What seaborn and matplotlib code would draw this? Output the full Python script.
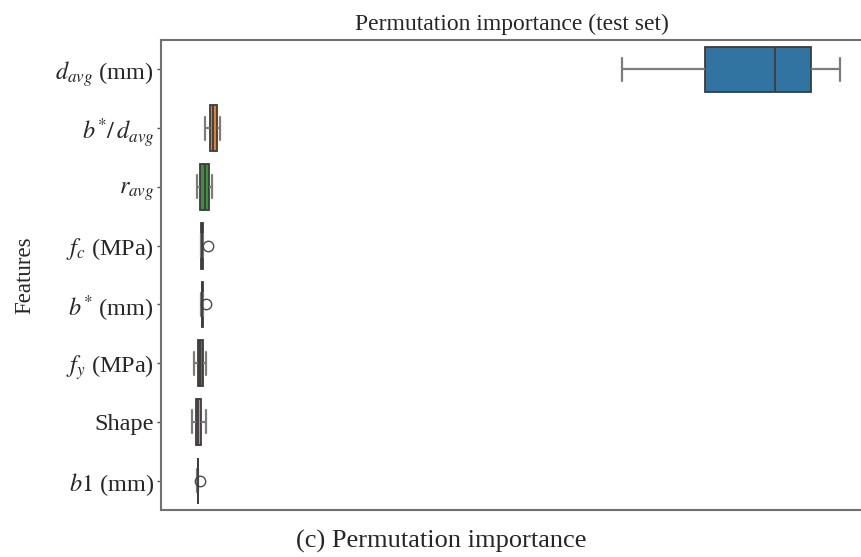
import matplotlib
matplotlib.use("Agg")
import matplotlib.pyplot as plt
import numpy as np
import pandas as pd
import seaborn as sns

# Permutation importance samples per feature (test set, repeated shuffles)
features = [
    r"$d_{avg}$ (mm)",
    r"$b^{*}/\,d_{avg}$",
    r"$r_{avg}$",
    r"$f_c$ (MPa)",
    r"$b^{*}$ (mm)",
    r"$f_y$ (MPa)",
    "Shape",
    r"$b1$ (mm)",
]
imp_d_avg = [0.4711, 0.5633, 0.6411, 0.6811, 0.7133]
imp_b_over_d = [0.0078, 0.0133, 0.0167, 0.0211, 0.0244]
imp_r_avg = [-0.0011, 0.0022, 0.0078, 0.0122, 0.0156]
imp_fc = [0.0028, 0.0033, 0.0044, 0.0056, 0.0111]
imp_b_star = [0.0028, 0.0039, 0.0050, 0.0056, 0.0085]
imp_fy = [-0.0044, 0.0000, 0.0022, 0.0056, 0.0089]
imp_shape = [-0.0067, -0.0022, 0.0000, 0.0033, 0.0089]
imp_b1 = [-0.0006, -0.0002, 0.0002, 0.0004, 0.0022]

series = [imp_d_avg, imp_b_over_d, imp_r_avg, imp_fc,
          imp_b_star, imp_fy, imp_shape, imp_b1]
df = pd.DataFrame({
    "Feature": np.repeat(features, [len(s) for s in series]),
    "Importance": np.concatenate(series),
})

sns.set_theme(style="white")
plt.rcParams["font.family"] = ["Liberation Serif", "DejaVu Serif"]
plt.rcParams["mathtext.fontset"] = "stix"

fig = plt.figure(figsize=(8.62, 5.57), dpi=100)
ax = fig.add_axes([0.1868, 0.0844, 0.8132, 0.8436])

grey = "#7c7c7c"
sns.boxplot(data=df, x="Importance", y="Feature", hue="Feature",
            order=features, palette="tab10", legend=False, ax=ax,
            linewidth=1.3, width=0.78, linecolor="#3c3c3c",
            whiskerprops=dict(color=grey, linewidth=1.6),
            capprops=dict(color=grey, linewidth=1.6),
            flierprops=dict(marker="o", markersize=7.5, markerfacecolor="none",
                            markeredgecolor="#4a4a4a"))

ax.set_xlim(-0.0411, 0.738)
ax.set_xticks([])
ax.set_xlabel("")
ax.set_ylabel("Features", fontsize=16.5)
ax.yaxis.set_label_coords(-0.18, 0.5)
ax.set_title("Permutation importance (test set)", fontsize=17, pad=7)
ax.tick_params(axis="y", labelsize=17.5, left=True, length=3, width=1,
               color="#555555", pad=2)

for side in ["left", "top", "bottom"]:
    ax.spines[side].set_color("#707070")
    ax.spines[side].set_linewidth(1.5)
ax.spines["right"].set_visible(False)

fig.text(0.512, 0.028, "(c) Permutation importance", ha="center", va="center",
         fontsize=19)

fig.savefig("out.png", dpi=100)
